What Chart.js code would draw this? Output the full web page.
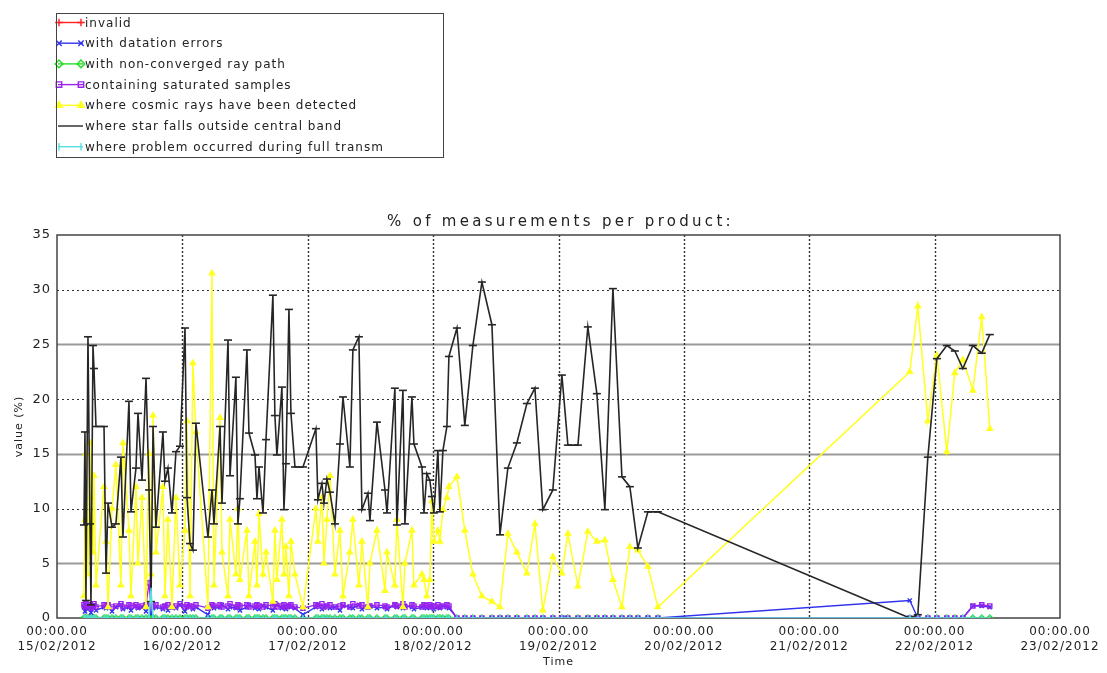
<!DOCTYPE html>
<html>
<head>
<meta charset="utf-8">
<script src="https://cdn.jsdelivr.net/npm/chart.js@4.4.1/dist/chart.umd.min.js"></script>
<style>
html, body { margin: 0; padding: 0; background: #fff; }
#wrap { position: relative; width: 1107px; height: 673px; }
#legendFrame {
    position: absolute; left: 56px; top: 13px; width: 386px; height: 143px;
    border: 1.5px solid #444; pointer-events: none;
}
</style>
</head>
<body>
<div id="wrap">
<canvas id="chart" width="1107" height="673"></canvas>
<div id="legendFrame"></div>
</div>
<script>
// product times, in days after 15/02/2012 00:00
const productTimes = [
    0.215, 0.223, 0.231, 0.247, 0.263, 0.271, 0.287, 0.295, 0.311, 0.375,
    0.391, 0.407, 0.439, 0.470, 0.510, 0.526, 0.574, 0.590, 0.630, 0.646,
    0.678, 0.710, 0.734, 0.750, 0.766, 0.789, 0.845, 0.861, 0.885, 0.917,
    0.949, 0.981, 1.021, 1.037, 1.061, 1.084, 1.108, 1.204, 1.236, 1.252,
    1.300, 1.316, 1.364, 1.380, 1.427, 1.443, 1.459, 1.515, 1.531, 1.579,
    1.595, 1.611, 1.643, 1.667, 1.722, 1.738, 1.754, 1.794, 1.810, 1.826,
    1.850, 1.866, 1.898, 1.962, 2.065, 2.081, 2.113, 2.129, 2.153, 2.177,
    2.217, 2.257, 2.281, 2.336, 2.360, 2.408, 2.432, 2.480, 2.496, 2.552,
    2.616, 2.632, 2.695, 2.711, 2.759, 2.775, 2.831, 2.847, 2.911, 2.927,
    2.950, 2.974, 2.990, 3.006, 3.038, 3.054, 3.078, 3.110, 3.126,
    3.190, 3.253, 3.317, 3.389, 3.469, 3.533, 3.596, 3.668, 3.748, 3.812,
    3.875, 3.955, 4.027, 4.075, 4.155, 4.234, 4.306, 4.370, 4.434, 4.506,
    4.569, 4.633, 4.713, 4.793,
    6.802, 6.866, 6.946, 7.018, 7.097, 7.161, 7.225, 7.305, 7.376, 7.440
];

const invalid = [
    0, 0, 0, 0, 0, 0, 0, 0, 0, 0,  0, 0, 0, 0, 0, 0, 0, 0, 0, 0,
    0, 0, 0, 0, 0, 0, 0, 0, 0, 0,  0, 0, 0, 0, 0, 0, 0, 0, 0, 0,
    0, 0, 0, 0, 0, 0, 0, 0, 0, 0,  0, 0, 0, 0, 0, 0, 0, 0, 0, 0,
    0, 0, 0, 0, 0, 0, 0, 0, 0, 0,  0, 0, 0, 0, 0, 0, 0, 0, 0, 0,
    0, 0, 0, 0, 0, 0, 0, 0, 0, 0,  0, 0, 0, 0, 0, 0, 0, 0, 0, 0,
    0, 0, 0, 0, 0, 0, 0, 0, 0, 0,  0, 0, 0, 0, 0, 0, 0, 0, 0, 0,
    0, 0, 0, 0, 0, 0, 0, 0, 0, 0,  0, 0, 0
];

const dotationErrors = [
    1.0, 0.6, 1.2, 0.8, 1.1, 0.5, 1.0, 1.2, 0.7, 1.0,
    0.9, 1.1, 0.6, 1.0, 1.2, 0.8, 1.0, 0.7, 1.1, 0.9,
    1.0, 0.6, 1.2, 0.4, 0.9, 1.0, 0.8, 1.1, 0.7, 1.0,
    0.9, 1.2, 0.6, 1.0, 1.1, 0.8, 1.0, 0.3, 1.1, 0.9,
    1.0, 1.2, 0.8, 1.0, 0.9, 1.1, 0.7, 1.0, 1.2, 0.9,
    1.0, 0.8, 1.1, 1.0, 0.7, 1.0, 1.2, 0.9, 1.0, 0.8,
    1.1, 1.0, 0.9, 0.3, 1.0, 1.2, 0.8, 1.0, 1.1, 0.9,
    1.0, 0.7, 1.1, 1.0, 0.9, 1.2, 0.8, 1.0, 1.1, 0.9,
    1.0, 0.8, 1.2, 1.0, 0.9, 1.1, 1.0, 0.8, 1.0, 1.2,
    0.9, 1.0, 1.1, 0.8, 1.0, 0.9, 1.1, 1.0, 0.9,
    0, 0, 0, 0, 0, 0, 0, 0, 0, 0,  0, 0, 0, 0, 0, 0, 0, 0, 0, 0,
    0, 0, 0, 0,
    1.6, 0, 0, 0, 0, 0, 0, 1.1, 1.1, 1.0
];

const nonConverged = [
    0, 0, 0, 0, 0, 0, 0, 0, 0, 0,  0, 0, 0, 0, 0, 0, 0, 0, 0, 0,
    0, 0, 0, 0, 0, 0, 0, 0, 0, 0,  0, 0, 0, 0, 0, 0, 0, 0, 0, 0,
    0, 0, 0, 0, 0, 0, 0, 0, 0, 0,  0, 0, 0, 0, 0, 0, 0, 0, 0, 0,
    0, 0, 0, 0, 0, 0, 0, 0, 0, 0,  0, 0, 0, 0, 0, 0, 0, 0, 0, 0,
    0, 0, 0, 0, 0, 0, 0, 0, 0, 0,  0, 0, 0, 0, 0, 0, 0, 0, 0, 0,
    0, 0, 0, 0, 0, 0, 0, 0, 0, 0,  0, 0, 0, 0, 0, 0, 0, 0, 0, 0,
    0, 0, 0, 0, 0, 0, 0, 0, 0, 0,  0, 0, 0
];

const saturated = [
    1.2, 1.0, 1.3, 1.1, 1.2, 0.9, 1.1, 1.3, 1.0, 1.2,
    1.1, 1.2, 1.0, 1.1, 1.3, 1.0, 1.2, 1.1, 1.2, 1.0,
    1.1, 1.2, 3.2, 1.0, 1.1, 1.2, 1.0, 1.1, 1.2, 1.0,
    1.1, 1.3, 1.0, 1.2, 1.1, 1.0, 1.2, 0.9, 1.2, 1.1,
    1.2, 1.0, 1.1, 1.3, 1.0, 1.2, 1.1, 1.2, 1.0, 1.1,
    1.2, 1.1, 1.0, 1.2, 1.1, 1.3, 1.0, 1.1, 1.2, 1.0,
    1.1, 1.2, 1.0, 0.9, 1.2, 1.1, 1.3, 1.0, 1.1, 1.2,
    1.0, 1.1, 1.2, 1.0, 1.3, 1.1, 1.2, 1.0, 1.1, 1.2,
    1.1, 1.0, 1.2, 1.1, 1.3, 1.0, 1.2, 1.1, 1.0, 1.2,
    1.1, 1.2, 1.0, 1.1, 1.2, 1.0, 1.1, 1.2, 1.1,
    0, 0, 0, 0, 0, 0, 0, 0, 0, 0,  0, 0, 0, 0, 0, 0, 0, 0, 0, 0,
    0, 0, 0, 0,
    0, 0, 0, 0, 0, 0, 0, 1.1, 1.2, 1.1
];

const cosmicRays = [
    2, 9, 15, 4, 16, 11, 6, 13, 3, 12,
    7, 1, 10, 14, 3, 16, 8, 2, 12, 5,
    11, 1, 15, 4, 18.5, 6, 12, 2, 9, 1,
    11, 3, 8, 18, 2, 23.3, 17, 1, 31.5, 3,
    18.3, 6, 2, 9, 4, 10, 3.5, 8, 2, 7,
    3, 9.5, 4, 6, 1.5, 8, 3.5, 9, 4, 6.5,
    2, 7, 4, 1, 10, 7, 11, 5, 9, 13,
    4, 8, 2, 6, 9, 3, 7, 1, 5, 8,
    2.5, 6, 3, 9, 1, 5, 8, 3, 4, 3.5,
    2, 3.5, 10.7, 7, 8, 7, 9.9, 11, 12,
    12.9, 8, 4, 2, 1.5, 1, 7.7, 6, 4.1, 8.6,
    0.7, 5.6, 4.1, 7.7, 2.9, 7.9, 7, 7.1, 3.5, 1,
    6.5, 6.2, 4.7, 1,
    22.5, 28.5, 18, 24, 15.2, 22.4, 23.6, 20.8, 27.5, 17.3
];

const outsideBand = [
    8.5, 17.0, 1.6, 25.7, 8.6, 1.2, 24.9, 22.8, 17.5, 17.5,
    4.1, 10.5, 8.3, 8.6, 14.7, 7.4, 19.8, 9.7, 13.7, 18.7,
    12.6, 21.9, 11.7, 1.5, 17.5, 8.3, 17.0, 12.5, 13.7, 9.6,
    15.2, 15.7, 26.5, 11.0, 6.8, 6.2, 17.8, 7.4, 11.7, 8.6,
    17.5, 10.5, 25.4, 13.0, 22.0, 8.6, 10.9, 24.5, 16.9, 14.9,
    10.9, 13.8, 9.6, 16.3, 29.5, 18.5, 14.9, 21.1, 9.9, 14.1,
    28.2, 18.7, 13.8, 13.8, 17.3, 10.8, 12.3, 10.5, 12.7, 11.5,
    8.6, 15.9, 20.2, 13.8, 24.5, 25.7, 9.9, 11.4, 8.9, 17.9,
    11.7, 9.6, 21.0, 8.5, 20.8, 8.6, 20.2, 15.9, 13.8, 9.6,
    13.2, 12.6, 11.1, 9.6, 15.3, 9.7, 15.3, 17.5, 23.9,
    26.5, 17.6, 24.9, 30.7, 26.8, 7.6, 13.7, 16.0, 19.6, 21.0,
    9.9, 11.7, 22.2, 15.8, 15.8, 26.6, 20.5, 9.9, 30.1, 12.9,
    12.0, 6.4, 9.7, 9.7,
    0, 0.3, 14.7, 23.7, 24.9, 24.4, 22.8, 24.9, 24.2, 25.9
];

const fullTransm = [
    0, 0, 0, 0, 0, 0, 0, 0, 0, 0,  0, 0, 0, 0, 0, 0, 0, 0, 0, 0,
    0, 0, 0, 2.5, 0, 0, 0, 0, 0, 0,  0, 0, 0, 0, 0, 0, 0, 0, 0, 0,
    0, 0, 0, 0, 0, 0, 0, 0, 0, 0,  0, 0, 0, 0, 0, 0, 0, 0, 0, 0,
    0, 0, 0, 0, 0, 0, 0, 0, 0, 0,  0, 0, 0, 0, 0, 0, 0, 0, 0, 0,
    0, 0, 0, 0, 0, 0, 0, 0, 0, 0,  0, 0, 0, 0, 0, 0, 0, 0, 0, 0,
    0, 0, 0, 0, 0, 0, 0, 0, 0, 0,  0, 0, 0, 0, 0, 0, 0, 0, 0, 0,
    0, 0, 0, 0, 0, 0, 0, 0, 0, 0,  0, 0, 0
];

const dayLabels = ['15/02/2012', '16/02/2012', '17/02/2012', '18/02/2012', '19/02/2012',
    '20/02/2012', '21/02/2012', '22/02/2012', '23/02/2012'];

const chartTitle = '% of measurements per product:';

Chart.defaults.font.family = '"DejaVu Sans", sans-serif';
Chart.defaults.color = '#222';

function points(values) {
    return productTimes.map((t, i) => ({ x: t, y: values[i] }));
}

// legend rows in the upper left box (the frame itself is the #legendFrame div)
const boxLegend = {
    id: 'boxLegend',
    beforeDraw(chart) {
        const ctx = chart.ctx;
        ctx.save();
        ctx.setLineDash([]);
        ctx.letterSpacing = '1px';
        ctx.font = '12px "DejaVu Sans", sans-serif';
        ctx.textBaseline = 'middle';
        chart.data.datasets.forEach((ds, i) => {
            const y = 22.5 + i * 20.7;
            ctx.strokeStyle = ds.borderColor;
            ctx.fillStyle = ds.pointBackgroundColor || ds.borderColor;
            ctx.lineWidth = 1.4;
            ctx.beginPath();
            ctx.moveTo(58, y);
            ctx.lineTo(83, y);
            ctx.stroke();
            if (ds.legendMarker !== false) {
                [59, 81].forEach(px => Chart.helpers.drawPoint(ctx, {
                    pointStyle: ds.pointStyle, radius: 3.8,
                    rotation: ds.pointRotation || 0, borderWidth: 1.4
                }, px, y));
            }
            ctx.fillStyle = '#222';
            ctx.fillText(ds.label, 85, y + 1);
        });
        ctx.restore();
    }
};

// IDL lettering is wide, so space the letters out a little
const wideText = {
    id: 'wideText',
    beforeDraw(chart) {
        chart.ctx.letterSpacing = '1px';
    },
    afterDraw(chart) {
        const { ctx, chartArea: a } = chart;
        ctx.save();
        ctx.letterSpacing = '3.3px';
        ctx.font = '15px "DejaVu Sans", sans-serif';
        ctx.fillStyle = '#222';
        ctx.textAlign = 'center';
        ctx.textBaseline = 'middle';
        ctx.fillText(chartTitle, (a.left + a.right) / 2 + 2, 222);
        ctx.restore();
        ctx.letterSpacing = '0px';
    }
};

// grid like the IDL plot: solid grey at 5/15/25, dotted at 10/20/30 and at each day
const plotGrid = {
    id: 'plotGrid',
    beforeDatasetsDraw(chart) {
        const { ctx, chartArea: a, scales: { x, y } } = chart;
        ctx.save();
        y.ticks.forEach(t => {
            if (t.value <= 0 || t.value >= 35) return;
            const py = Math.round(y.getPixelForValue(t.value)) + 0.5;
            if (t.value % 10 === 5) {
                ctx.setLineDash([]);
                ctx.strokeStyle = '#9a9a9a';
                ctx.lineWidth = 2;
            } else {
                ctx.setLineDash([2, 3]);
                ctx.strokeStyle = '#333';
                ctx.lineWidth = 1.2;
            }
            ctx.beginPath();
            ctx.moveTo(a.left, py);
            ctx.lineTo(a.right, py);
            ctx.stroke();
        });
        ctx.setLineDash([2, 2]);
        ctx.strokeStyle = '#333';
        ctx.lineWidth = 1.4;
        x.ticks.forEach(t => {
            if (t.value <= 0 || t.value >= 8) return;
            const px = Math.round(x.getPixelForValue(t.value)) + 0.5;
            ctx.beginPath();
            ctx.moveTo(px, a.top);
            ctx.lineTo(px, a.bottom);
            ctx.stroke();
        });
        // frame goes under the data, the zero lines lie on the bottom axis
        ctx.setLineDash([]);
        ctx.strokeStyle = '#444';
        ctx.lineWidth = 1.5;
        ctx.beginPath();
        ctx.rect(a.left, a.top, a.right - a.left, a.bottom - a.top);
        ctx.stroke();
        ctx.restore();
    }
};

new Chart(document.getElementById('chart'), {
    type: 'line',
    data: {
        datasets: [
            {
                label: 'invalid', data: points(invalid), order: 6,
                borderColor: '#ff2020', pointBackgroundColor: '#ff2020',
                pointStyle: 'cross', pointRadius: 3, borderWidth: 1.3
            },
            {
                label: 'with datation errors', data: points(dotationErrors), order: 4,
                borderColor: '#3333ee', pointBackgroundColor: '#3333ee',
                pointStyle: 'crossRot', pointRadius: 3, borderWidth: 1.4
            },
            {
                label: 'with non-converged ray path', data: points(nonConverged), order: 5,
                borderColor: '#22dd22', pointBackgroundColor: 'rgba(0,0,0,0)',
                pointStyle: 'rectRot', pointRadius: 3, borderWidth: 1.3
            },
            {
                label: 'containing saturated samples', data: points(saturated), order: 3,
                borderColor: '#9a22ee', pointBackgroundColor: 'rgba(0,0,0,0)',
                pointStyle: 'rect', pointRadius: 3, borderWidth: 1.3
            },
            {
                label: 'where cosmic rays have been detected', data: points(cosmicRays), order: 2,
                borderColor: '#ffff20', pointBackgroundColor: '#ffff20',
                pointStyle: 'triangle', pointRadius: 3, borderWidth: 1.5
            },
            {
                label: 'where star falls outside central band', data: points(outsideBand), order: 1,
                borderColor: '#262626', pointBackgroundColor: '#262626',
                pointStyle: 'line', pointRadius: 4, borderWidth: 1.6, legendMarker: false
            },
            {
                label: 'where problem occurred during full transm', data: points(fullTransm), order: 0,
                borderColor: '#55e0e0', pointBackgroundColor: '#55e0e0',
                pointStyle: 'line', pointRotation: 90, pointRadius: 3, borderWidth: 1.5
            }
        ]
    },
    options: {
        responsive: false,
        animation: false,
        events: [],
        layout: { padding: { top: 235, right: 47, left: 0, bottom: 0 } },
        elements: { line: { tension: 0, fill: false } },
        plugins: {
            legend: { display: false },
            tooltip: { enabled: false },
            title: { display: false }
        },
        scales: {
            x: {
                type: 'linear',
                min: 0,
                max: 8,
                grid: { display: false, drawTicks: false },
                border: { display: false },
                ticks: {
                    stepSize: 1,
                    autoSkip: false,
                    maxRotation: 0,
                    padding: 6,
                    color: '#222',
                    font: { size: 12, lineHeight: 1.25 },
                    callback: v => Number.isInteger(v) ? ['00:00.00', dayLabels[v]] : ''
                },
                title: { display: true, text: 'Time', color: '#222', font: { size: 11 }, padding: { top: 4, bottom: 4 } },
                afterFit: scale => { scale.height = 55; }
            },
            y: {
                min: 0,
                max: 35,
                grid: { display: false, drawTicks: false },
                border: { display: false },
                ticks: { stepSize: 5, padding: 6, color: '#222', font: { size: 13 } },
                title: { display: true, text: 'value (%)', color: '#222', font: { size: 11 }, padding: { top: 13, bottom: 0 } },
                afterFit: scale => { scale.width = 57; }
            }
        }
    },
    plugins: [boxLegend, wideText, plotGrid]
});
</script>
</body>
</html>
